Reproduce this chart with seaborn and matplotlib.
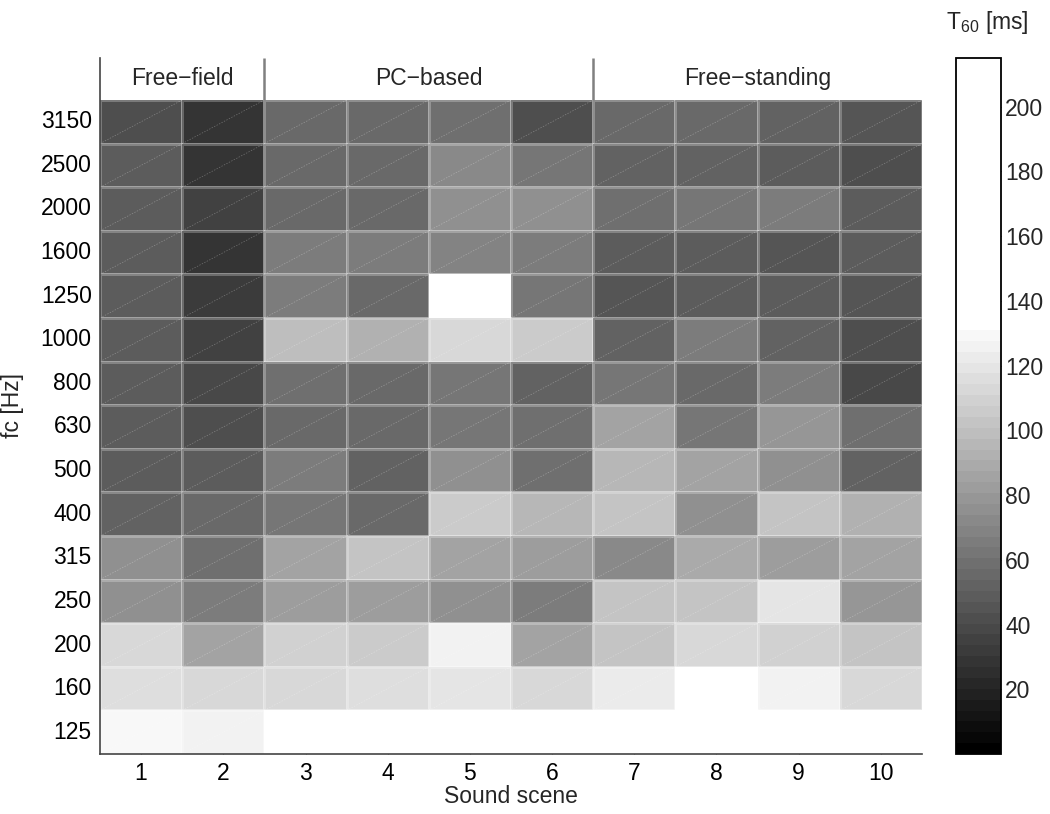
import numpy as np
import pandas as pd
import matplotlib
matplotlib.use("Agg")
import matplotlib.pyplot as plt
from matplotlib.colors import ListedColormap
from matplotlib.collections import LineCollection
import seaborn as sns

# ---------------- data ----------------
scenes = [1, 2, 3, 4, 5, 6, 7, 8, 9, 10]
freqs = [125, 160, 200, 250, 315, 400, 500, 630, 800, 1000, 1250, 1600, 2000, 2500, 3150]

t60_125 = [130, 125, 150, 160, 170, 132, 133, 140, 135, 132]
t60_160 = [116, 111, 114, 117, 120, 111, 121, 137, 125, 111]
t60_200 = [113, 87, 110, 106, 125, 87, 104, 114, 109, 102]
t60_250 = [75, 66, 82, 81, 75, 67, 104, 101, 118, 78]
t60_315 = [75, 60, 87, 101, 86, 81, 72, 90, 81, 87]
t60_400 = [52, 57, 61, 57, 105, 97, 102, 76, 102, 92]
t60_500 = [48, 50, 67, 53, 77, 60, 96, 85, 75, 51]
t60_630 = [48, 43, 57, 57, 61, 59, 86, 63, 78, 59]
t60_800 = [50, 39, 60, 57, 63, 51, 63, 56, 65, 40]
t60_1000 = [50, 36, 98, 91, 111, 105, 52, 65, 52, 43]
t60_1250 = [50, 31, 64, 56, 215, 61, 47, 49, 49, 44]
t60_1600 = [50, 28, 65, 66, 70, 67, 50, 49, 46, 50]
t60_2000 = [48, 35, 55, 54, 75, 76, 60, 62, 65, 49]
t60_2500 = [48, 28, 56, 54, 73, 61, 52, 52, 50, 43]
t60_3150 = [43, 28, 54, 55, 60, 43, 55, 54, 52, 44]

groups = ["Free\u2212field", "PC\u2212based", "Free\u2212standing"]
group_bounds = [(0, 2), (2, 6), (6, 10)]
cbar_ticks = [20, 40, 60, 80, 100, 120, 140, 160, 180, 200]
vmin, vmax = 0, 215

rows = [t60_125, t60_160, t60_200, t60_250, t60_315, t60_400, t60_500, t60_630,
        t60_800, t60_1000, t60_1250, t60_1600, t60_2000, t60_2500, t60_3150]
df = pd.DataFrame(rows, index=freqs, columns=scenes).iloc[::-1]

# ---------------- style ----------------
sns.set_theme(style="white")
plt.rcParams["font.family"] = ["Liberation Sans", "DejaVu Sans"]
plt.rcParams["mathtext.fontset"] = "custom"
plt.rcParams["mathtext.rm"] = "Liberation Sans"
plt.rcParams["mathtext.it"] = "Liberation Sans"
FS = 16.5

# 64-level gray colormap: ramp to white over the first 39 levels, white above
levels = np.clip(np.arange(64) / 39.0, 0, 1)
cmap = ListedColormap(np.column_stack([levels, levels, levels]))

W, H = 1050, 814
fig = plt.figure(figsize=(W / 100, H / 100), dpi=100)
ax = fig.add_axes([100 / W, 60 / H, 822 / W, 696 / H])
cax = fig.add_axes([956 / W, 60 / H, 45 / W, 696 / H])

sns.heatmap(df, ax=ax, cmap=cmap, vmin=vmin, vmax=vmax, cbar_ax=cax,
            linewidths=0.8, linecolor=(1, 1, 1, 0.25))

nrow, ncol = df.shape
hdr = nrow * 42 / 654.0
ax.set_ylim(nrow, -hdr)
ax.set_xlim(0, ncol)

# faint diagonal seams in each cell
segs = [[(j, i + 1), (j + 1, i)] for i in range(nrow) for j in range(ncol)]
ax.add_collection(LineCollection(segs, colors=[(1, 1, 1, 0.3)], linewidths=0.5,
                                 linestyles=[(0, (2, 2))]))

# header labels and separators
for name, (a, b) in zip(groups, group_bounds):
    ax.text((a + b) / 2, -hdr / 2, name, ha="center", va="center", fontsize=FS)
ax.vlines([b for (a, b) in group_bounds[:-1]], -hdr, 0, color="#808080", lw=1.8)

for s in ["left", "bottom"]:
    ax.spines[s].set_visible(True)
    ax.spines[s].set_color("#444444")
    ax.spines[s].set_linewidth(1.2)
for s in ["top", "right"]:
    ax.spines[s].set_visible(False)

ax.set_xticks(np.arange(ncol) + 0.5)
ax.set_xticklabels(scenes, rotation=0)
ax.set_yticks(np.arange(nrow) + 0.5)
ax.set_yticklabels(df.index, rotation=0)
ax.tick_params(axis="both", direction="in", length=3, width=0.8, color="#666666",
               labelsize=FS, labelcolor="black", bottom=True, left=True, pad=6)
ax.set_xlabel("Sound scene", fontsize=FS, labelpad=0)
ax.set_ylabel("fc [Hz]", fontsize=FS, labelpad=12)

cb = ax.collections[0].colorbar
cb.outline.set_visible(True)
cb.outline.set_linewidth(1.3)
cb.outline.set_edgecolor("black")
cb.set_ticks(cbar_ticks)
cax.tick_params(direction="in", length=5, width=0.8, color="#333333",
                left=True, right=True, labelsize=FS, pad=3)
fig.text(987 / W, 1 - 22 / H, r"T$_{60}$ [ms]", ha="center", va="center", fontsize=FS)

fig.savefig("out.png", dpi=100, facecolor="white")
